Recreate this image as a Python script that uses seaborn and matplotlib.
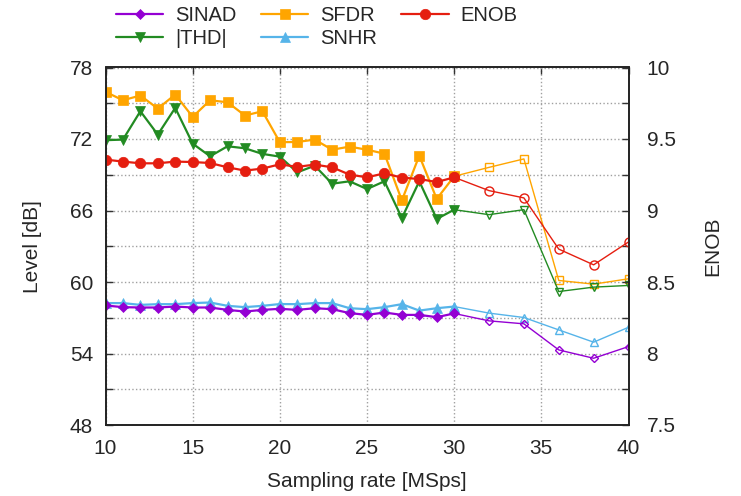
import numpy as np
import pandas as pd
import matplotlib
matplotlib.use("Agg")
import matplotlib.pyplot as plt
from matplotlib.ticker import MultipleLocator
import seaborn as sns

# Sampling rates: dense sweep (1 MSps steps) and coarse extension (2 MSps steps)
rate_fine = list(range(10, 31))
rate_coarse = [30, 32, 34, 36, 38, 40]

sinad_fine = [58.03, 57.89, 57.86, 57.86, 57.94, 57.86, 57.86, 57.66, 57.52, 57.66, 57.75,
              57.66, 57.80, 57.72, 57.39, 57.24, 57.44, 57.24, 57.24, 57.05, 57.36]
sinad_coarse = [57.36, 56.74, 56.49, 54.30, 53.60, 54.58]

thd_fine = [71.90, 71.95, 74.33, 72.37, 74.61, 71.61, 70.55, 71.39, 71.22, 70.75, 70.52,
            69.20, 69.76, 68.25, 68.45, 67.80, 68.45, 65.37, 68.45, 65.29, 66.07]
thd_coarse = [66.07, 65.65, 66.07, 59.20, 59.57, 59.71]

sfdr_fine = [75.96, 75.25, 75.65, 74.55, 75.73, 73.86, 75.25, 75.08, 73.97, 74.33, 71.73,
             71.75, 71.95, 71.10, 71.36, 71.10, 70.77, 66.85, 70.60, 66.97, 68.87]
sfdr_coarse = [68.87, 69.62, 70.33, 60.13, 59.82, 60.27]

snhr_fine = [58.23, 58.23, 58.08, 58.14, 58.14, 58.23, 58.28, 58.00, 57.89, 58.00, 58.15,
             58.14, 58.23, 58.23, 57.80, 57.72, 57.89, 58.14, 57.60, 57.80, 57.94]
snhr_coarse = [57.94, 57.39, 57.02, 55.98, 54.95, 56.20]

enob_fine = [9.356, 9.342, 9.330, 9.330, 9.342, 9.339, 9.332, 9.302, 9.279, 9.293, 9.323,
             9.305, 9.321, 9.302, 9.251, 9.232, 9.260, 9.230, 9.220, 9.199, 9.232]
enob_coarse = [9.232, 9.139, 9.088, 8.730, 8.620, 8.780]

series_labels = ["SINAD", "|THD|", "SFDR", "SNHR", "ENOB"]
colors = {"SINAD": "#9400d3", "|THD|": "#228b22", "SFDR": "#ffa500",
          "SNHR": "#56b4e9", "ENOB": "#e51e10"}
markers = {"SINAD": "D", "|THD|": "v", "SFDR": "s", "SNHR": "^", "ENOB": "o"}
msize = {"SINAD": 5.5, "|THD|": 7, "SFDR": 7, "SNHR": 7, "ENOB": 7.5}

sns.set_style("white")
plt.rcParams["font.family"] = ["Liberation Sans", "DejaVu Sans"]
plt.rcParams["font.size"] = 15

fig = plt.figure(figsize=(7.41, 4.96), dpi=100)
ax = fig.add_axes([105.5 / 741, 1 - 425 / 496, 523 / 741, (425 - 67.5) / 496])
ax2 = ax.twinx()

fine = {"SINAD": sinad_fine, "|THD|": thd_fine, "SFDR": sfdr_fine,
        "SNHR": snhr_fine, "ENOB": enob_fine}
coarse = {"SINAD": sinad_coarse, "|THD|": thd_coarse, "SFDR": sfdr_coarse,
          "SNHR": snhr_coarse, "ENOB": enob_coarse}

handles = {}
for name in ["SFDR", "|THD|", "SNHR", "SINAD", "ENOB"]:
    target = ax2 if name == "ENOB" else ax
    c = colors[name]
    df_f = pd.DataFrame({"rate": rate_fine, "val": fine[name]})
    df_c = pd.DataFrame({"rate": rate_coarse, "val": coarse[name]})
    sns.lineplot(data=df_c, x="rate", y="val", ax=target, color=c, linewidth=1.0,
                 marker=markers[name], markersize=msize[name] - 1,
                 markerfacecolor="none", markeredgecolor=c, markeredgewidth=1.0,
                 legend=False)
    sns.lineplot(data=df_f, x="rate", y="val", ax=target, color=c, linewidth=1.6,
                 marker=markers[name], markersize=msize[name],
                 markerfacecolor=c, markeredgecolor=c, markeredgewidth=0.5,
                 legend=False)
    handles[name] = target.get_lines()[-1]

# Axes limits and ticks
ax.set_xlim(10, 40)
ax.set_ylim(48, 78)
ax2.set_ylim(7.5, 10)
ax.xaxis.set_major_locator(MultipleLocator(5))
ax.yaxis.set_major_locator(MultipleLocator(6))
ax.yaxis.set_minor_locator(MultipleLocator(3))
ax2.yaxis.set_major_locator(MultipleLocator(0.5))
ax2.yaxis.set_minor_locator(MultipleLocator(0.25))
ax2.set_yticks([7.5, 8, 8.5, 9, 9.5, 10])
ax2.set_yticklabels(["7.5", "8", "8.5", "9", "9.5", "10"])

ax.tick_params(axis="both", which="both", direction="in", length=5, width=1,
               color="#333333", labelsize=15)
ax.tick_params(axis="x", top=True, pad=10)
ax.tick_params(axis="y", which="both", left=True, right=False, pad=9)
ax2.tick_params(axis="y", which="both", direction="in", length=5, width=1,
                color="#333333", labelsize=15, pad=13)

# Dotted grid at every major/minor position
ax.grid(True, which="both", axis="y", linestyle=":", color="#a0a0a0", linewidth=1.0)
ax.grid(True, which="major", axis="x", linestyle=":", color="#a0a0a0", linewidth=1.0)
ax.set_axisbelow(True)

for a in (ax, ax2):
    for sp in a.spines.values():
        sp.set_color("#222222")
        sp.set_linewidth(1.2)

ax.set_xlabel("Sampling rate [MSps]", fontsize=15, labelpad=10)
ax.set_ylabel("Level [dB]", fontsize=15, labelpad=20)
ax2.set_ylabel("ENOB", fontsize=15, labelpad=20)

fig.legend([handles[n] for n in series_labels], series_labels,
           loc="upper left", bbox_to_anchor=(116 / 741, 1 - 6 / 496),
           ncol=3, frameon=False, fontsize=14.5, handlelength=2.35,
           handletextpad=0.6, columnspacing=1.2, labelspacing=0.2,
           borderpad=0, borderaxespad=0)

fig.savefig("out.png", dpi=100)
